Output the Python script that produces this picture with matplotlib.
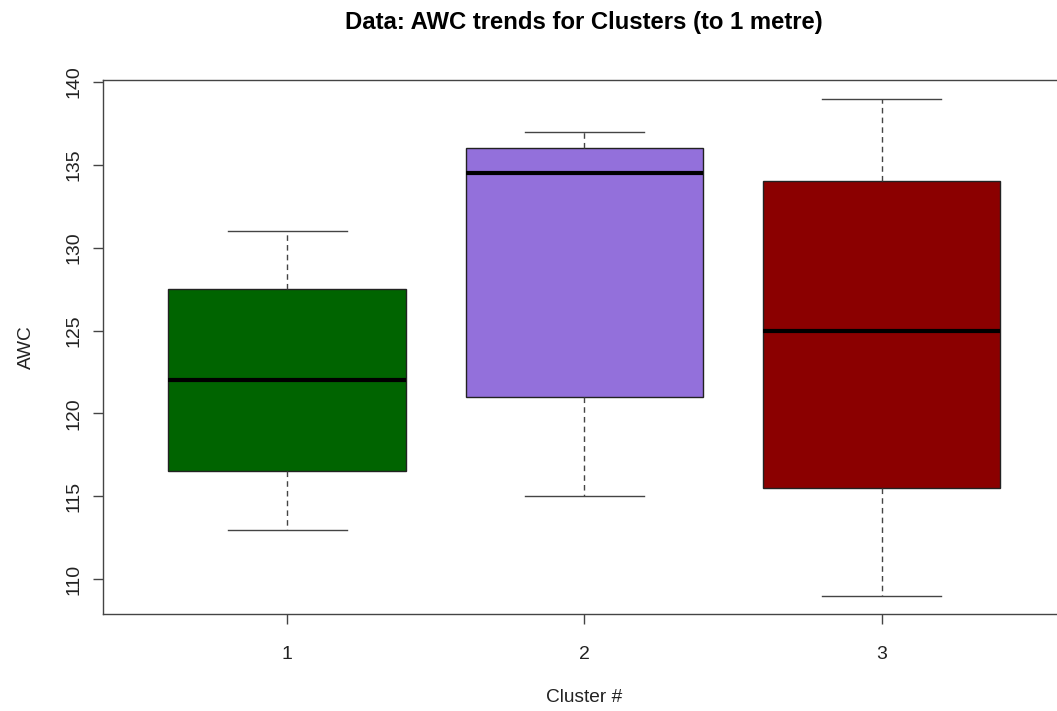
# -*- coding: utf-8 -*-
"""
AWC trends for clusters, box plot in the style of base R graphics
"""

import matplotlib.pyplot as plt

# %% 1. Data
# ----------------------------------------------------------------------------

clusters = ['1', '2', '3']
whisker_low = [113, 115, 109]
q1 = [116.5, 121, 115.5]
medians = [122, 134.5, 125]
q3 = [127.5, 136, 134]
whisker_high = [131, 137, 139]
box_colours = ['#006400', '#9370DB', '#8B0000']
y_ticks = [110, 115, 120, 125, 130, 135, 140]

# %% 2. Build the stats for bxp
# ----------------------------------------------------------------------------

stats = []
for i, name in enumerate(clusters):
    stats.append({'label': name,
                  'whislo': whisker_low[i], 'q1': q1[i], 'med': medians[i],
                  'q3': q3[i], 'whishi': whisker_high[i], 'fliers': []})

# %% 3. Plot
# ----------------------------------------------------------------------------

plt.rcParams['font.family'] = 'Liberation Sans'
line_col = '#444444'
text_col = '#222222'

fig = plt.figure(figsize=[10.57, 7.11], dpi=100)
ax = fig.add_axes([0.0974, 0.1364, 0.911, 0.751])

bp = ax.bxp(stats, positions=[1, 2, 3], widths=0.8, patch_artist=True,
            showfliers=False,
            boxprops=dict(edgecolor=text_col, linewidth=1),
            whiskerprops=dict(color=line_col, linestyle=(0, (4, 3)), linewidth=1),
            capprops=dict(color=line_col, linewidth=1),
            medianprops=dict(color='black', linewidth=3, solid_capstyle='butt'),
            capwidths=0.4)

for patch, col in zip(bp['boxes'], box_colours):
    patch.set_facecolor(col)

# R pads the data range by ~4 %
ax.set_xlim(0.38, 3.62)
ax.set_ylim(107.9, 140.12)

ax.set_yticks(y_ticks)
ax.set_yticklabels([str(t) for t in y_ticks], rotation=90, va='center')
ax.set_xticks([1, 2, 3])
ax.set_xticklabels(clusters)
ax.tick_params(axis='both', direction='out', length=7, width=1,
               color=line_col, labelsize=14, labelcolor=text_col)
ax.tick_params(axis='x', pad=16)
ax.tick_params(axis='y', pad=8)

for s in ax.spines.values():
    s.set_color(line_col)
    s.set_linewidth(1)

# Title centred over the (partly clipped) plot region, like R's main=
fig.text(0.552, 1 - 22 / 711, 'Data: AWC trends for Clusters (to 1 metre)',
         fontsize=17.2, fontweight='bold', ha='center', va='center')
ax.set_xlabel('Cluster #', fontsize=13.8, color=text_col, labelpad=19)
ax.set_ylabel('AWC', fontsize=13.8, color=text_col, labelpad=22)

fig.savefig('out.png', dpi=100)
